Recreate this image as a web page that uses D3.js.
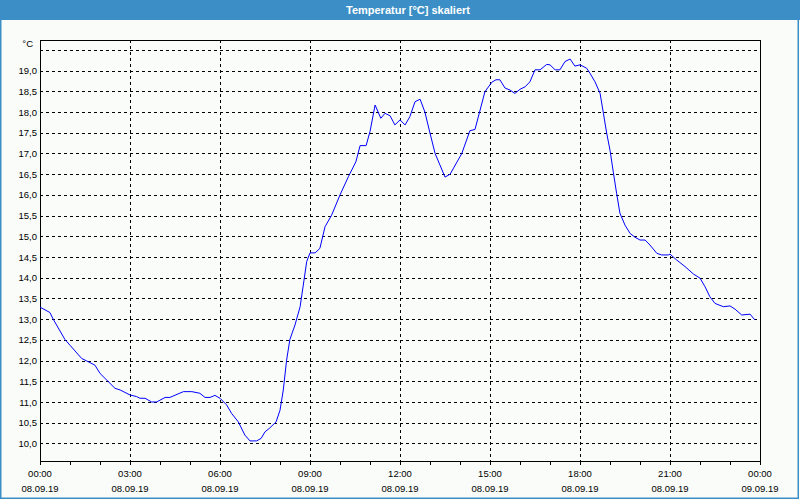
<!DOCTYPE html>
<html>
<head>
<meta charset="utf-8">
<script src="https://cdn.jsdelivr.net/npm/d3@7"></script>
<style>
  html, body { margin: 0; padding: 0; background: #f9fcf9; }
  svg { display: block; }
  text { font-family: "Liberation Sans", Arial, sans-serif; }
</style>
</head>
<body>
<svg id="chart" width="800" height="500"></svg>
<script>
// ---- data ----
const title = "Temperatur [°C] skaliert";
const unitLabel = "°C";
// time in hours since 08.09.19 00:00
const hours = [0, 0.33, 0.44, 0.83, 1.0, 1.39, 1.56, 1.83, 2.0, 2.5, 2.67, 3.0, 3.22, 3.33, 3.5, 3.72, 3.89,
  4.17, 4.33, 4.78, 5.06, 5.33, 5.5, 5.67, 5.83, 6.0, 6.22, 6.39, 6.61, 6.83, 7.0, 7.22, 7.37, 7.5, 7.64,
  7.87, 8.0, 8.11, 8.22, 8.33, 8.5, 8.67, 8.8, 8.89, 9.0, 9.17, 9.33, 9.5, 9.72, 10.0, 10.28, 10.53, 10.67,
  10.87, 11.0, 11.17, 11.36, 11.5, 11.67, 11.83, 12.0, 12.17, 12.33, 12.5, 12.67, 12.83, 13.0, 13.17, 13.5,
  13.67, 14.06, 14.33, 14.5, 14.83, 15.06, 15.2, 15.33, 15.5, 15.67, 15.83, 16.0, 16.17, 16.33, 16.5, 16.67,
  16.89, 17.0, 17.17, 17.33, 17.5, 17.67, 17.83, 18.0, 18.22, 18.33, 18.5, 18.67, 18.78, 18.89, 19.0, 19.11,
  19.22, 19.33, 19.5, 19.67, 19.83, 20.0, 20.17, 20.33, 20.56, 20.72, 20.94, 21.0, 21.22, 21.5, 21.78, 22.0,
  22.17, 22.33, 22.5, 22.78, 23.0, 23.17, 23.39, 23.67, 23.83];
const temps = [13.29, 13.16, 13.0, 12.51, 12.37, 12.05, 11.99, 11.89, 11.69, 11.33, 11.29, 11.17, 11.13, 11.09, 11.09, 11.0, 11.0,
  11.11, 11.11, 11.25, 11.25, 11.21, 11.11, 11.11, 11.16, 11.09, 10.93, 10.72, 10.52, 10.2, 10.06, 10.06, 10.12, 10.28, 10.36,
  10.52, 10.8, 11.29, 12.01, 12.51, 12.86, 13.3, 13.94, 14.39, 14.6, 14.6, 14.71, 15.23, 15.51, 16.0, 16.44, 16.8, 17.19,
  17.19, 17.53, 18.17, 17.85, 17.97, 17.91, 17.69, 17.81, 17.69, 17.89, 18.25, 18.31, 18.0, 17.49, 17.0, 16.43,
  16.5, 17.0, 17.55, 17.58, 18.49, 18.72, 18.78, 18.78, 18.58, 18.53, 18.45, 18.55, 18.61, 18.73, 19.02, 19.02,
  19.15, 19.14, 19.02, 19.02, 19.22, 19.28, 19.11, 19.14, 19.06, 18.94, 18.73, 18.45, 17.97, 17.49, 17.08, 16.55,
  16.04, 15.56, 15.27, 15.07, 14.98, 14.91, 14.91, 14.79, 14.59, 14.55, 14.55, 14.57, 14.43, 14.27, 14.09, 13.99,
  13.78, 13.54, 13.38, 13.3, 13.32, 13.24, 13.1, 13.12, 12.98];
const yTickValues = [10.0, 10.5, 11.0, 11.5, 12.0, 12.5, 13.0, 13.5, 14.0, 14.5, 15.0, 15.5, 16.0, 16.5, 17.0, 17.5, 18.0, 18.5, 19.0];
const yGridValues = [10.0, 10.5, 11.0, 11.5, 12.0, 12.5, 13.0, 13.5, 14.0, 14.5, 15.0, 15.5, 16.0, 16.5, 17.0, 17.5, 18.0, 18.5, 19.0, 19.5];
const xMajorHours = [0, 3, 6, 9, 12, 15, 18, 21, 24];
const xTimeLabels = ["00:00", "03:00", "06:00", "09:00", "12:00", "15:00", "18:00", "21:00", "00:00"];
const xDateLabels = ["08.09.19", "08.09.19", "08.09.19", "08.09.19", "08.09.19", "08.09.19", "08.09.19", "08.09.19", "09.09.19"];
const xMinorHours = d3.range(0, 25, 1);

// ---- layout ----
const W = 800, H = 500;
const plot = { left: 40, right: 760, top: 40, bottom: 461 };
const svg = d3.select("#chart");

const x = d3.scaleLinear().domain([0, 24]).range([plot.left, plot.right]);
const y = d3.scaleLinear().domain([9.575, 19.74]).range([plot.bottom, plot.top]);
const deFmt = d3.formatLocale({ decimal: ",", thousands: ".", grouping: [3], currency: ["", "€"] }).format(".1f");

// background
svg.append("rect").attr("x", 0).attr("y", 0).attr("width", W).attr("height", H).attr("fill", "#f9fcf9");

// title bar
svg.append("rect").attr("x", 0).attr("y", 0).attr("width", W).attr("height", 20).attr("fill", "#3c8fc6");
svg.append("text").attr("x", 408).attr("y", 14).attr("text-anchor", "middle")
  .attr("fill", "#ffffff").attr("font-size", "11px").attr("font-weight", "bold").text(title);

// outer frame
svg.append("path").attr("d", `M0.75,20 V498.25 H798.25 V20`)
  .attr("fill", "none").attr("stroke", "#3c8fc6").attr("stroke-width", 1.5);

// grid
const grid = svg.append("g").attr("shape-rendering", "crispEdges");
grid.selectAll("line.h").data(yGridValues).join("line").attr("class", "h")
  .attr("x1", plot.left).attr("x2", plot.right)
  .attr("y1", d => Math.round(y(d)) + 0.5).attr("y2", d => Math.round(y(d)) + 0.5)
  .attr("stroke", "#000").attr("stroke-dasharray", "3,3");
grid.selectAll("line.v").data(xMajorHours.slice(1, -1)).join("line").attr("class", "v")
  .attr("x1", d => Math.round(x(d)) + 0.5).attr("x2", d => Math.round(x(d)) + 0.5)
  .attr("y1", plot.top).attr("y2", plot.bottom)
  .attr("stroke", "#000").attr("stroke-dasharray", "3,3");

// x axis (minor ticks)
const xAxis = d3.axisBottom(x).tickValues(xMinorHours).tickSize(3).tickSizeOuter(0).tickFormat("");
const gx = svg.append("g").attr("transform", `translate(0,${plot.bottom + 0.5})`).call(xAxis);
gx.selectAll("path, line").attr("stroke", "#000").attr("shape-rendering", "crispEdges");
gx.select(".domain").remove();

// x labels
const xl = svg.append("g").attr("font-size", "9.5px").attr("fill", "#000").attr("text-anchor", "middle");
xMajorHours.forEach((h, i) => {
  xl.append("text").attr("x", x(h)).attr("y", 477).text(xTimeLabels[i]);
  xl.append("text").attr("x", x(h)).attr("y", 492).text(xDateLabels[i]);
});

// y axis labels
const yAxis = d3.axisLeft(y).tickValues(yTickValues).tickSize(0).tickPadding(3).tickFormat(d => deFmt(d));
const gy = svg.append("g").attr("transform", `translate(${plot.left},0)`).call(yAxis);
gy.select(".domain").remove();
gy.selectAll("text").attr("font-family", "Liberation Sans, Arial, sans-serif").attr("font-size", "9.5px").attr("fill", "#000");

svg.append("text").attr("x", 33).attr("y", 47).attr("text-anchor", "end")
  .attr("font-size", "9.5px").attr("fill", "#000").text(unitLabel);

// plot frame
svg.append("rect").attr("x", plot.left + 0.5).attr("y", plot.top + 0.5)
  .attr("width", plot.right - plot.left).attr("height", plot.bottom - plot.top)
  .attr("fill", "none").attr("stroke", "#000").attr("shape-rendering", "crispEdges");

// data line
const data = hours.map((h, i) => ({ h, v: temps[i] }));
const line = d3.line().x(d => x(d.h)).y(d => y(d.v));
svg.append("path").datum(data).attr("d", line)
  .attr("fill", "none").attr("stroke", "#0000ff").attr("stroke-width", 1);
</script>
</body>
</html>
